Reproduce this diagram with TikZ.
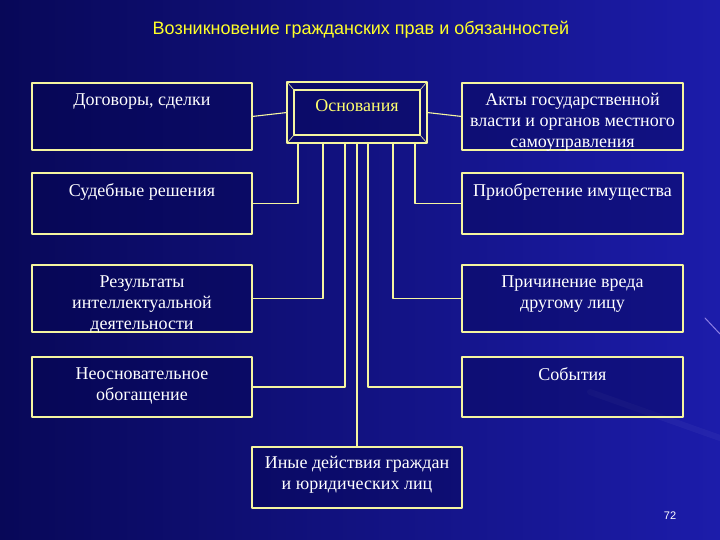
\documentclass[tikz,border=0pt]{standalone}
\usepackage{fontspec}
\setmainfont{Liberation Serif}
\newfontfamily\slidesans{Liberation Sans}
\usetikzlibrary{calc}
\definecolor{SlideDeep}{RGB}{8,8,88}
\definecolor{SlideBlue}{RGB}{10,10,140}
\definecolor{SlideGlow}{RGB}{28,28,170}
\definecolor{BasisLine}{RGB}{245,245,160}
\definecolor{BasisFill}{RGB}{4,4,80}
\definecolor{BasisTitle}{RGB}{255,255,40}
\definecolor{BasisInk}{RGB}{255,255,255}
\definecolor{BasisKey}{RGB}{255,255,110}
\definecolor{SlideStreak}{RGB}{190,170,255}
\tikzset{
    basis/diagram/.style={
        x=1pt, y=-1pt,
        line cap=round,
        line join=round,
        every node/.style={inner sep=0pt, outer sep=0pt}
    },
    basis/box/.style={
        rectangle, draw=BasisLine, line width=1.1pt,
        fill=BasisFill, fill opacity=0.4
    },
    basis/inner/.style={draw=BasisLine, line width=1.1pt},
    basis/bevel/.style={draw=BasisLine, line width=0.6pt},
    basis/link/.style={draw=BasisLine, line width=1.1pt},
    basis/caption/.style={
        text=BasisInk, align=center, anchor=north,
        font=\fontsize{18}{21}\selectfont
    },
    basis/key/.style={text=BasisKey, anchor=base, font=\fontsize{18}{21}\selectfont},
    basis/title/.style={text=BasisTitle, font=\slidesans\fontsize{18}{21}\selectfont},
    basis/page/.style={text=BasisInk, font=\slidesans\fontsize{11}{13}\selectfont}
}

\begin{document}
\begin{tikzpicture}[basis/diagram]
    \useasboundingbox (0,0) rectangle (720,540);
    \shade[left color=SlideDeep, middle color=SlideBlue, right color=SlideGlow]
        (0,0) rectangle (720,540);
    \draw[SlideStreak, line width=1pt, opacity=0.7] (705,318) -- (720,334);
    \draw[white, line width=6pt, opacity=0.04] (590,392) -- (720,438);

    \node[basis/title] (title) at (361,30) {Возникновение гражданских прав и обязанностей};

    % centre box
    \node[basis/box, minimum width=140pt, minimum height=61pt] (basis) at (357,112.5) {};
    \coordinate (basis-nw) at ([shift={(7pt,-8pt)}]basis.north west);
    \coordinate (basis-ne) at ([shift={(-7pt,-8pt)}]basis.north east);
    \coordinate (basis-se) at ([shift={(-7pt,8pt)}]basis.south east);
    \coordinate (basis-sw) at ([shift={(7pt,8pt)}]basis.south west);
    \draw[basis/inner] (basis-nw) rectangle (basis-se);
    \draw[basis/bevel] (basis.north west) -- (basis-nw)
                       (basis.north east) -- (basis-ne)
                       (basis.south east) -- (basis-se)
                       (basis.south west) -- (basis-sw);
    \node[basis/key] (basis-t) at (357,111.5) {Основания};

    % left column
    \node[basis/box, minimum width=220pt, minimum height=67pt] (contracts) at (142,116.5) {};
    \node[basis/box, minimum width=220pt, minimum height=61pt] (court) at (142,203.5) {};
    \node[basis/box, minimum width=220pt, minimum height=67pt] (intellect) at (142,298.5) {};
    \node[basis/box, minimum width=220pt, minimum height=60pt] (enrich) at (142,387) {};
    \node[basis/caption] (contracts-t) at ([yshift=-10.5pt]contracts.north) {Договоры, сделки};
    \node[basis/caption] (court-t) at ([yshift=-10.5pt]court.north) {Судебные решения};
    \node[basis/caption] (intellect-t) at ([yshift=-10.5pt]intellect.north)
        {Результаты\\интеллектуальной\\деятельности};
    \node[basis/caption] (enrich-t) at ([yshift=-10.5pt]enrich.north)
        {Неосновательное\\обогащение};

    % right column
    \node[basis/box, minimum width=221pt, minimum height=67pt] (acts) at (572.5,116.5) {};
    \node[basis/box, minimum width=221pt, minimum height=61pt] (property) at (572.5,203.5) {};
    \node[basis/box, minimum width=221pt, minimum height=67pt] (harm) at (572.5,298.5) {};
    \node[basis/box, minimum width=221pt, minimum height=60pt] (events) at (572.5,387) {};
    \node[basis/caption] (acts-t) at ([yshift=-10pt]acts.north)
        {Акты государственной\\власти и органов местного\\самоуправления};
    \node[basis/caption] (property-t) at ([yshift=-10.5pt]property.north) {Приобретение имущества};
    \node[basis/caption] (harm-t) at ([yshift=-10.5pt]harm.north)
        {Причинение вреда\\другому лицу};
    \node[basis/caption] (events-t) at ([yshift=-10.5pt]events.north) {События};

    % bottom box
    \node[basis/box, minimum width=210pt, minimum height=61pt] (other) at (357,477.5) {};
    \node[basis/caption] (other-t) at ([yshift=-9.5pt]other.north)
        {Иные действия граждан\\и юридических лиц};

    % connectors
    \draw[basis/link] (contracts.east) -- (basis.west);
    \draw[basis/link] (basis.east) -- (acts.west);
    \draw[basis/link] ([xshift=-59pt]basis.south) |- (court.east);
    \draw[basis/link] ([xshift=-34pt]basis.south) |- (intellect.east);
    \draw[basis/link] ([xshift=-12pt]basis.south) |- (enrich.east);
    \draw[basis/link] (basis.south) -- (other.north);
    \draw[basis/link] ([xshift=11pt]basis.south) |- (events.west);
    \draw[basis/link] ([xshift=36pt]basis.south) |- (harm.west);
    \draw[basis/link] ([xshift=58pt]basis.south) |- (property.west);

    \node[basis/page] (page) at (670,516) {72};
\end{tikzpicture}
\end{document}
